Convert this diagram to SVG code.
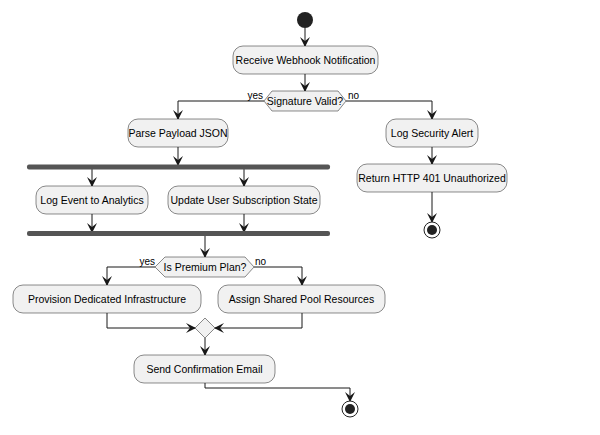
<svg xmlns="http://www.w3.org/2000/svg" width="600" height="435" viewBox="0 0 600 435">
<style>
.n{fill:#f1f1f1;stroke:#181818;stroke-width:0.5}
.t{font-family:"Liberation Sans",Arial,sans-serif;font-size:10.5px;fill:#000;text-anchor:middle}
.l{font-family:"Liberation Sans",Arial,sans-serif;font-size:10px;fill:#000}
.r{text-anchor:end}
.c{fill:none;stroke:#181818;stroke-width:1}
.bar{fill:#555555}
</style>
<defs><marker id="a" viewBox="0 0 10 10" refX="9" refY="5" markerWidth="10" markerHeight="10" markerUnits="userSpaceOnUse" orient="auto"><path d="M0,0 L10,5 L0,10 L4,5 Z" fill="#181818"/></marker></defs>
<rect width="600" height="435" fill="#fff"/>
<g id="connectors">
<path class="c" marker-end="url(#a)" d="M305,28 V46"/>
<path class="c" marker-end="url(#a)" d="M305,74 V91"/>
<path class="c" marker-end="url(#a)" d="M264,101 H178 V119"/>
<path class="c" marker-end="url(#a)" d="M346,101 H432 V119"/>
<path class="c" marker-end="url(#a)" d="M432,147 V164"/>
<path class="c" marker-end="url(#a)" d="M432,192 V222"/>
<path class="c" marker-end="url(#a)" d="M178,147 V165"/>
<path class="c" marker-end="url(#a)" d="M92,169 V186"/>
<path class="c" marker-end="url(#a)" d="M244,169 V186"/>
<path class="c" marker-end="url(#a)" d="M92,214 V232"/>
<path class="c" marker-end="url(#a)" d="M244,214 V232"/>
<path class="c" marker-end="url(#a)" d="M205,236 V257"/>
<path class="c" marker-end="url(#a)" d="M155,267 H107 V285"/>
<path class="c" marker-end="url(#a)" d="M254,267 H302 V285"/>
<path class="c" marker-end="url(#a)" d="M107,313 V328 H195"/>
<path class="c" marker-end="url(#a)" d="M302,313 V328 H215"/>
<path class="c" marker-end="url(#a)" d="M205,338 V355"/>
<path class="c" marker-end="url(#a)" d="M205,383 V388 H350 V401"/>
<text class="l r" x="263" y="99">yes</text>
<text class="l" x="348" y="99">no</text>
<text class="l r" x="155" y="265">yes</text>
<text class="l" x="255" y="265">no</text>
</g>
<g id="start"><circle cx="305" cy="20" r="8" fill="#222"/></g>
<g id="receive"><rect class="n" x="233" y="46" width="145" height="28" rx="10"/><text class="t" x="305.5" y="64">Receive Webhook Notification</text></g>
<g id="sigValid"><polygon class="n" points="264,101 272,91 338,91 346,101 338,111 272,111"/><text class="t" x="305" y="104.5">Signature Valid?</text></g>
<g id="parse"><rect class="n" x="128" y="119" width="100" height="28" rx="10"/><text class="t" x="178" y="137">Parse Payload JSON</text></g>
<g id="logSec"><rect class="n" x="386" y="119" width="92" height="28" rx="10"/><text class="t" x="432" y="137">Log Security Alert</text></g>
<g id="ret401"><rect class="n" x="357" y="164" width="150" height="28" rx="10"/><text class="t" x="432" y="182">Return HTTP 401 Unauthorized</text></g>
<g id="end1"><circle cx="432" cy="230" r="8" fill="#fff" stroke="#222" stroke-width="1"/><circle cx="432" cy="230" r="5" fill="#222"/></g>
<g id="fork"><rect class="bar" x="27" y="164.5" width="303" height="5" rx="2"/></g>
<g id="logEvent"><rect class="n" x="36" y="186" width="112" height="28" rx="10"/><text class="t" x="92" y="204">Log Event to Analytics</text></g>
<g id="updateSub"><rect class="n" x="168" y="186" width="152" height="28" rx="10"/><text class="t" x="244" y="204">Update User Subscription State</text></g>
<g id="join"><rect class="bar" x="27" y="231" width="303" height="5" rx="2"/></g>
<g id="premium"><polygon class="n" points="155,267 165,257 245,257 254,267 245,277 165,277"/><text class="t" x="205" y="270.5">Is Premium Plan?</text></g>
<g id="provision"><rect class="n" x="13" y="285" width="188" height="28" rx="10"/><text class="t" x="107" y="303">Provision Dedicated Infrastructure</text></g>
<g id="assign"><rect class="n" x="218" y="285" width="167" height="28" rx="10"/><text class="t" x="301.5" y="303">Assign Shared Pool Resources</text></g>
<g id="merge"><polygon class="n" points="205,318 215,328 205,338 195,328"/></g>
<g id="sendEmail"><rect class="n" x="134" y="355" width="141" height="28" rx="10"/><text class="t" x="204.5" y="373">Send Confirmation Email</text></g>
<g id="end2"><circle cx="350" cy="409" r="8" fill="#fff" stroke="#222" stroke-width="1"/><circle cx="350" cy="409" r="5" fill="#222"/></g>
</svg>
